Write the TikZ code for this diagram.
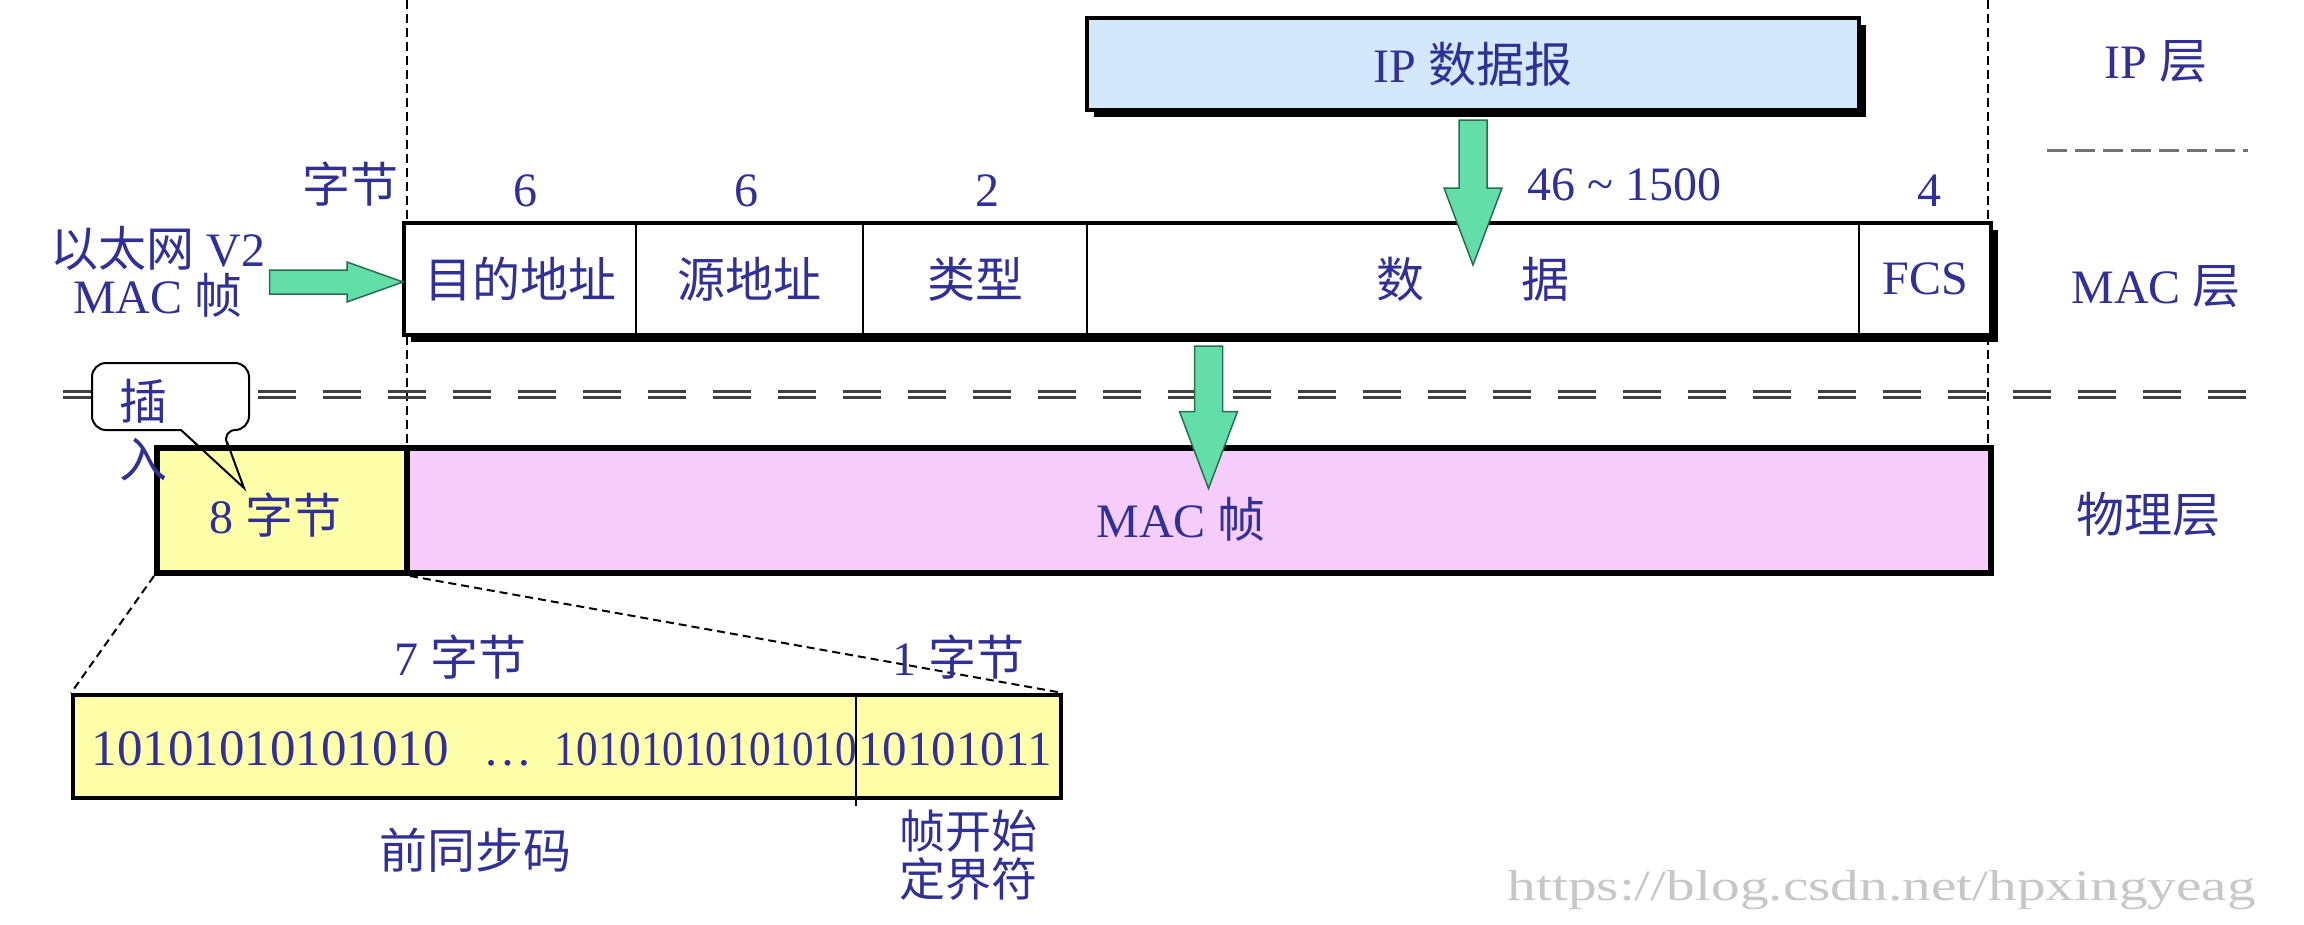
\documentclass[tikz,border=0pt]{standalone}
\usepackage{fontspec}
\setmainfont{Liberation Serif}
\newfontfamily\cjk{Noto Sans CJK SC}
\usetikzlibrary{calc,shadows}
\definecolor{txt}{RGB}{48,48,150}
\definecolor{ipblue}{RGB}{212,232,252}
\definecolor{pinkf}{RGB}{246,204,250}
\definecolor{yel}{RGB}{255,255,170}
\definecolor{grn}{RGB}{100,222,168}
\definecolor{grnd}{RGB}{40,110,80}
\tikzset{
  lbl/.style={font=\fontsize{48}{47}\selectfont, text=txt, inner sep=0pt},
  field/.style={draw, line width=2pt, inner sep=0pt, minimum height=112pt, lbl},
  bigbox/.style={draw, line width=4pt, inner sep=0pt},
  shad/.style={drop shadow={shadow xshift=7pt, shadow yshift=-7pt, fill=black, opacity=1}},
  garrow/.style={fill=grn, draw=grnd, line width=1.5pt},
  vdash/.style={line width=1.8pt, dash pattern=on 9pt off 5pt},
  ddash/.style={line width=3pt, black!75, dash pattern=on 38pt off 27pt},
  zoomdash/.style={line width=2pt, dash pattern=on 8pt off 5pt},
}
\newcommand\GreenDown[2]{%
  \draw[garrow] let \p1=#1, \p2=#2 in
    (\x2-14pt,\y1) -- (\x2-14pt,\y2+77pt) -- (\x2-29pt,\y2+77pt) -- (\x2,\y2)
    -- (\x2+29pt,\y2+77pt) -- (\x2+14pt,\y2+77pt) -- (\x2+14pt,\y1) -- cycle;}
\newcommand\GreenRight[2]{%
  \draw[garrow] let \p1=#1, \p2=#2 in
    (\x1,\y2+12pt) -- (\x2-56pt,\y2+12pt) -- (\x2-56pt,\y2+20pt) -- (\x2,\y2)
    -- (\x2-56pt,\y2-20pt) -- (\x2-56pt,\y2-12pt) -- (\x1,\y2-12pt) -- cycle;}
\begin{document}
\begin{tikzpicture}[x=1pt,y=-1pt]
\useasboundingbox (0,0) rectangle (2304,924);

% vertical dashed guide lines
\coordinate (lt) at (407,0);
\coordinate (rt) at (1988,0);
\draw[vdash] (lt) -- (407,448);
\draw[vdash] (rt) -- (1988,448);

% double dashed separator
\coordinate (dl) at (63,391);
\coordinate (dr) at (2250,391);
\draw[ddash] (dl) -- (dr);
\draw[ddash] ($(dl)+(0,6)$) -- ($(dr)+(0,6)$);

% short dashed line on the right
\coordinate (sl) at (2047,150);
\coordinate (sr) at (2248,150);
\draw[line width=3pt, black!55, dash pattern=on 20pt off 8pt] (sl) -- (sr);

% MAC frame
\node[bigbox, shad, fill=white, minimum width=1587pt, minimum height=112pt] (mac) at (1197.5,279) {};
\node[field, minimum width=232pt] (f1) at (520,279) {{\cjk 目的地址}};
\node[field, minimum width=227pt] (f2) at (749.5,279) {{\cjk 源地址}};
\node[field, minimum width=224pt] (f3) at (975,279) {{\cjk 类型}};
\node[field, minimum width=772pt] (f4) at (1473,279) {{\cjk 数}\hspace{98pt}{\cjk 据}};
\node[field, minimum width=132pt] (f5) at (1925,279) {FCS};

% IP datagram
\node[bigbox, shad, fill=ipblue, minimum width=772pt, minimum height=92pt, lbl] (ip) at (1473,64) {IP {\cjk 数据报}};
\GreenDown{($(ip.south)+(0,8)$)}{($(f4.center)+(0,-14)$)}

% byte counts
\node[lbl] (zj) at (350,184) {{\cjk 字节}};
\node[lbl] (n1) at (525,191) {6};
\node[lbl] (n2) at (746,191) {6};
\node[lbl] (n3) at (987,191) {2};
\node[lbl] (n4) at (1624,185) {46 \textasciitilde\ 1500};
\node[lbl] (n5) at (1929,191) {4};

% left label + arrow
\node[lbl, align=center] (eth) at (158,272) {{\cjk 以太网} V2\\MAC {\cjk 帧}};
\GreenRight{($(eth.east)+(4,0)$)}{($(f1.west)+(0,3)$)}

% callout
\draw[line width=2pt, fill=white] (181,430) [rounded corners=14pt] -- (92,430) -- (92,363) -- (249,363) -- (249,430) -- (222,430) [sharp corners] -- (244,488) -- cycle;

% physical layer
\node[draw, line width=6pt, fill=pinkf, minimum width=1587pt, minimum height=125pt, inner sep=0pt] (pink) at (1197.5,510.5) {};
\node[draw, line width=6pt, fill=yel, minimum width=250pt, minimum height=125pt, inner sep=0pt] (yb) at (282,510.5) {};
\draw[line width=2pt] (194,442) -- (244,488) -- (227,442);
\node[lbl] (eight) at (275,515) {8 {\cjk 字节}};
\node[lbl] (macf) at (1181,519) {MAC {\cjk 帧}};
\GreenDown{($(mac.south)+(11,9)$)}{($(pink.center)+(11,-22)$)}
\node[lbl] (ins1) at (143,401) {{\cjk 插}};
\node[lbl] (ins2) at (143,460) {{\cjk 入}};

% layer names
\node[lbl] (l1) at (2156,62) {IP {\cjk 层}};
\node[lbl] (l2) at (2156,287) {MAC {\cjk 层}};
\node[lbl] (l3) at (2148,514) {{\cjk 物理层}};

% preamble detail
\node[bigbox, fill=yel, minimum width=988pt, minimum height=103pt] (pre) at (567,746.5) {};
\coordinate (dv) at (856,746.5);
\draw[line width=2pt] (pre.north -| dv) -- ($(pre.south -| dv)+(0,6)$);
\draw[zoomdash] (yb.south west) -- (pre.north west);
\draw[zoomdash] (yb.south east) -- (pre.north east);
\node[lbl, font=\fontsize{51}{50}\selectfont, anchor=base] (b1) at (270,765) {10101010101010};
\node[lbl, font=\fontsize{49}{50}\selectfont, anchor=base] (b2) at (508,765) {…};
\node[lbl, font=\fontsize{49}{50}\selectfont, anchor=base east] (b3) at (857,765) {\scalebox{0.88}[1]{10101010101010}};
\node[lbl, font=\fontsize{49}{50}\selectfont, anchor=base west] (b4) at (858,765) {10101011};
\node[lbl] (s7) at (460,657) {7 {\cjk 字节}};
\node[lbl] (s1) at (958,657) {1 {\cjk 字节}};
\node[lbl] (pa) at (475,850) {{\cjk 前同步码}};
\node[lbl, align=center, font=\fontsize{46}{48}\selectfont] (sfd) at (968,855) {{\cjk 帧开始}\\{\cjk 定界符}};

% watermark
\node[text=black!22, inner sep=0pt, anchor=base east] (wm) at (2256,900) {\resizebox{748pt}{30pt}{https://blog.csdn.net/hpxingyeag}};
\end{tikzpicture}
\end{document}
